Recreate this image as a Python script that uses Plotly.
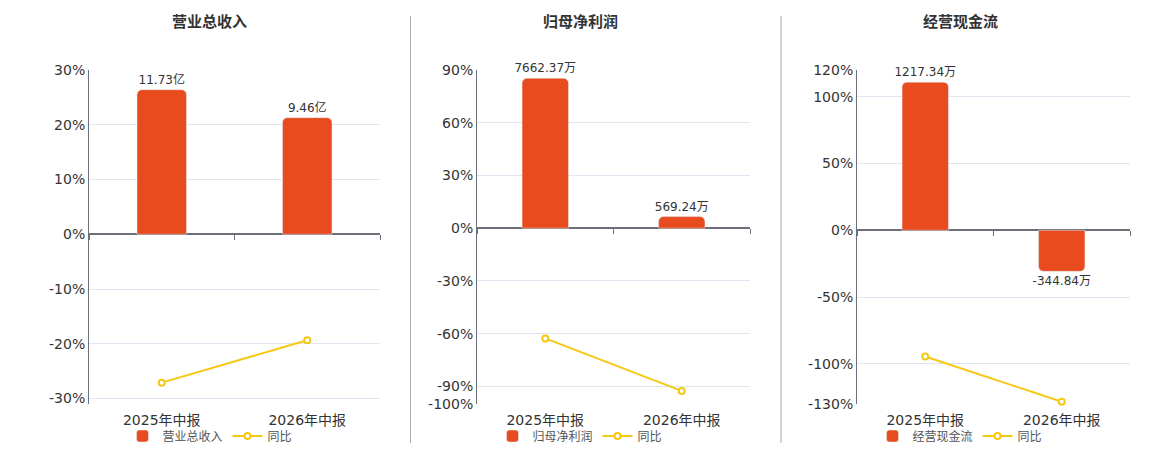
import plotly.graph_objects as go

# 数据
periods = ["2025年中报", "2026年中报"]
titles = ["营业总收入", "归母净利润", "经营现金流"]

revenue_bar = [26.4, 21.3]
revenue_text = ["11.73亿", "9.46亿"]
revenue_yoy = [-27.1, -19.35]

profit_bar = [85.3, 6.6]
profit_text = ["7662.37万", "569.24万"]
profit_yoy = [-62.7, -92.57]

cash_bar = [110.9, -30.7]
cash_text = ["1217.34万", "-344.84万"]
cash_yoy = [-94.4, -128.3]

y_ranges = [[-31, 30], [-100, 90], [-130, 120]]
y_ticks = [[-31, -30, -20, -10, 0, 10, 20, 30],
           [-100, -90, -60, -30, 0, 30, 60, 90],
           [-130, -100, -50, 0, 50, 100, 120]]

W, H = 1160, 450


# 页面上的像素位置 -> paper 坐标（页面有偏移）
def fx(px):
    return (px - 8) / W


def fy(py):
    return 1 - (py - 16) / 434


x_domains = [[fx(89), fx(380)], [fx(477), fx(750)], [fx(857), fx(1130)]]
y_domain = [fy(404), fy(70)]
centers = [210, 580, 960]

BAR = "#E84C1E"
LINE = "#F5C814"
FONT = "Verdana, DejaVu Sans, Noto Sans CJK SC"

fig = go.Figure()
series = [(revenue_bar, revenue_text, revenue_yoy),
          (profit_bar, profit_text, profit_yoy),
          (cash_bar, cash_text, cash_yoy)]

for i, (bars, texts, yoy) in enumerate(series):
    n = "" if i == 0 else str(i + 1)
    xa, ya = "x" + n, "y" + n
    lg = "legend" + n
    fig.add_trace(go.Bar(
        x=periods, y=bars, text=texts, textposition="outside",
        textfont=dict(size=12, color="#333333"), cliponaxis=False,
        constraintext="none",
        marker_color=BAR, width=0.34, name=titles[i], xaxis=xa, yaxis=ya,
        legend=lg,
    ))
    fig.add_trace(go.Scatter(
        x=periods, y=yoy, mode="lines+markers", name="同比",
        line=dict(color=LINE, width=2),
        marker=dict(symbol="circle", size=6, color="white",
                    line=dict(color=LINE, width=2)),
        xaxis=xa, yaxis=ya, legend=lg, cliponaxis=False,
    ))

    lo, hi = y_ranges[i]
    ticktext = ["" if (i == 0 and v == -31) else f"{v}%" for v in y_ticks[i]]
    fig.update_layout(**{
        "xaxis" + n: dict(domain=x_domains[i], anchor=ya, showgrid=False,
                          showline=False, ticks="", zeroline=False,
                          ticklabelstandoff=6,
                          tickfont=dict(size=14, color="#333333")),
        "yaxis" + n: dict(domain=y_domain, anchor=xa, range=[lo, hi],
                          tickvals=y_ticks[i], ticktext=ticktext,
                          showgrid=True, gridcolor="#E0E6F1", gridwidth=1,
                          zeroline=True, zerolinecolor="#6E7079",
                          zerolinewidth=2, showline=True, linecolor="#6E7079",
                          linewidth=1, ticks="", ticklen=0,
                          tickfont=dict(size=14, color="#333333")),
        lg: dict(orientation="h", x=fx(centers[i]), xanchor="center",
                 y=fy(436), yanchor="middle",
                 font=dict(size=12, color="#555555"),
                 bgcolor="rgba(0,0,0,0)", itemwidth=30),
    })
    # 零轴上的类目刻度
    zero_pos = y_domain[0] + (0 - lo) / (hi - lo) * (y_domain[1] - y_domain[0])
    k = str(i + 4)
    fig.update_layout(**{
        "xaxis" + k: dict(domain=x_domains[i], overlaying=xa, anchor="free",
                          position=zero_pos, range=[-0.5, 1.5],
                          tickvals=[-0.5, 0.5, 1.5], ticktext=["", "", ""],
                          ticks="outside", ticklen=5, tickcolor="#6E7079",
                          showline=False, showgrid=False, zeroline=False),
    })
    fig.add_trace(go.Scatter(x=[None], y=[None], xaxis="x" + k, yaxis=ya,
                             showlegend=False, hoverinfo="skip"))
    fig.add_annotation(text="<b>" + titles[i] + "</b>", x=fx(centers[i]),
                       y=fy(22), xref="paper", yref="paper",
                       xanchor="center", yanchor="middle",
                       showarrow=False, font=dict(size=15, color="#333333"))

for sx in [410.5, 781]:
    fig.add_shape(type="line", xref="paper", yref="paper",
                  x0=fx(sx), x1=fx(sx), y0=1, y1=fy(443),
                  line=dict(color="#AAAAAA", width=1))

fig.update_layout(
    width=W, height=H, margin=dict(l=0, r=0, t=0, b=0),
    paper_bgcolor="white", plot_bgcolor="white",
    font=dict(family=FONT), barcornerradius=5,
)

fig.write_html("out.html")
